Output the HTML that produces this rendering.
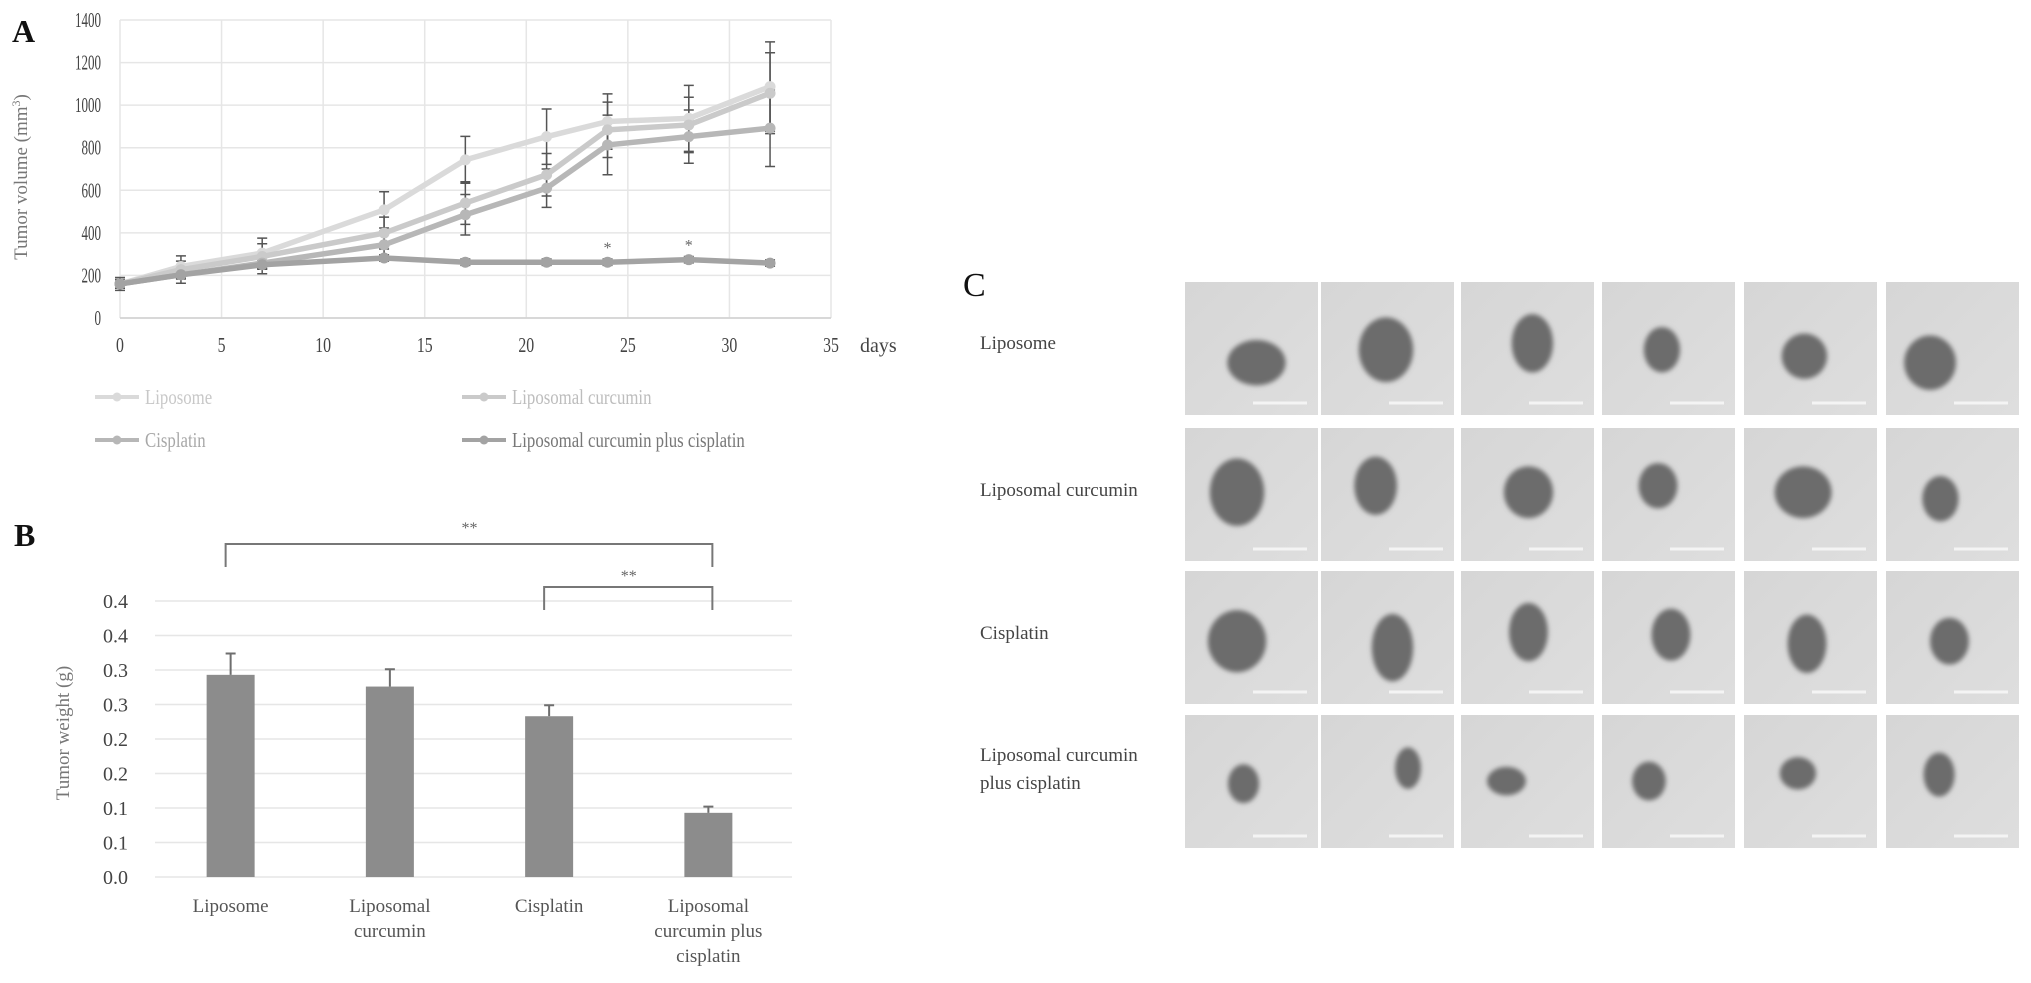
<!DOCTYPE html>
<html><head><meta charset="utf-8">
<style>
html,body{margin:0;padding:0;background:#fff;}
svg{display:block;font-family:"Liberation Serif",serif;}
</style></head>
<body>
<svg id="fig" width="2031" height="983" viewBox="0 0 2031 983" xmlns="http://www.w3.org/2000/svg">
<defs>
<filter id="blur2" x="-30%" y="-30%" width="160%" height="160%"><feGaussianBlur stdDeviation="2.5"/></filter>
<linearGradient id="bg" x1="0" y1="0" x2="1" y2="1"><stop offset="0" stop-color="#d6d6d6"/><stop offset="1" stop-color="#dedede"/></linearGradient>
</defs>
<g id="panelA"></g>
<g id="panelB"></g>
<g id="panelC"></g>
</svg>
<script>
// ---- Panel A data ----
const days = [0,3,7,13,17,21,24,28,32];
const xTicksA = [0,5,10,15,20,25,30,35];
const yTicksA = [0,200,400,600,800,1000,1200,1400];
const seriesNames = ["Liposome","Liposomal curcumin","Cisplatin","Liposomal curcumin plus cisplatin"];
const liposomeVals = [160,242,305,508,743,852,923,938,1087];
const curcuminVals = [160,227,289,399,540,673,884,907,1056];
const cisplatinVals = [160,203,258,344,485,610,813,852,892];
const comboVals = [160,203,250,282,262,262,262,274,258];
const liposomeErr = [20,50,70,85,110,130,130,155,210];
const curcuminErr = [20,40,60,75,100,100,130,130,190];
const cisplatinErr = [20,40,50,65,95,90,140,125,180];
const comboErr = [30,20,20,15,15,15,15,15,15];
const starDays = [24,28];

// ---- Panel B data ----
const groupsB = [["Liposome"],["Liposomal","curcumin"],["Cisplatin"],["Liposomal","curcumin plus","cisplatin"]];
const weightVals = [0.293,0.276,0.233,0.093];
const weightErr = [0.031,0.025,0.016,0.009];
const yTickLabelsB = ["0.0","0.1","0.1","0.2","0.2","0.3","0.3","0.4"];
const yTickValsB = [0,0.05,0.1,0.15,0.2,0.25,0.3,0.35];

const NS="http://www.w3.org/2000/svg";
function mk(parent,tag,attrs,text){const e=document.createElementNS(NS,tag);for(const k in attrs)e.setAttribute(k,attrs[k]);if(text!==undefined)e.textContent=text;parent.appendChild(e);return e;}
function condense(el,f){try{const w=el.getComputedTextLength();el.setAttribute('textLength',(w*f).toFixed(1));el.setAttribute('lengthAdjust','spacingAndGlyphs');}catch(e){}}

// ===== Panel A =====
(function(){
const g=document.getElementById('panelA');
const X0=120,X1=831,Y0=318,Y1=20;
const xs=d=>X0+(d/35)*(X1-X0);
const ys=v=>Y0-(v/1400)*(Y0-Y1);
let t=mk(g,'text',{x:12,y:42,'font-size':32,'font-weight':'bold',fill:'#111'},'A');


yTicksA.forEach(v=>{
  const l=mk(g,'line',{x1:X0,x2:X1,y1:ys(v),y2:ys(v),stroke:'#e6e6e6','stroke-width':1.5});
  
  
  const tx=mk(g,'text',{x:101,y:ys(v)+7,'font-size':21,fill:'#444','text-anchor':'end'},String(v));
  
  
  condense(tx,0.62);
});
xTicksA.forEach(v=>{
  const l=mk(g,'line',{x1:xs(v),x2:xs(v),y1:Y1,y2:Y0,stroke:'#e6e6e6','stroke-width':1.5});
  
  
  const tx=mk(g,'text',{x:xs(v),y:352,'font-size':21,fill:'#444','text-anchor':'middle'},String(v));
  
  
  condense(tx,0.75);
});
let ax=mk(g,'line',{x1:X0,x2:X1,y1:Y0,y2:Y0,stroke:'#d0d0d0','stroke-width':1.5});


let dt=mk(g,'text',{x:860,y:352,'font-size':20,fill:'#444'},'days');


let yt=mk(g,'text',{x:0,y:0,'font-size':19,fill:'#777','text-anchor':'middle',transform:'translate(27,177) rotate(-90)'});
yt.innerHTML='Tumor volume (mm<tspan dy="-7" font-size="12">3</tspan><tspan dy="7">)</tspan>';


const all=[liposomeVals,curcuminVals,cisplatinVals,comboVals];
const errs=[liposomeErr,curcuminErr,cisplatinErr,comboErr];
const cols=['#dadada','#cacaca','#b7b7b7','#a3a3a3'];
all.forEach((vals,si)=>{vals.forEach((v,i)=>{
  const x=xs(days[i]),e=errs[si][i];
  const eb=mk(g,'path',{d:`M${x},${ys(v+e)}V${ys(v-e)}M${x-5},${ys(v+e)}H${x+5}M${x-5},${ys(v-e)}H${x+5}`,stroke:'#555','stroke-width':1.5,fill:'none'});
  
  
});});
all.forEach((vals,si)=>{
  const p=mk(g,'polyline',{points:vals.map((v,i)=>xs(days[i])+','+ys(v)).join(' '),fill:'none',stroke:cols[si],'stroke-width':5.5,'stroke-linejoin':'round'});
  
  
  vals.forEach((v,i)=>{
    const c=mk(g,'circle',{cx:xs(days[i]),cy:ys(v),r:5.5,fill:cols[si]});
    
    
  });
});
starDays.forEach(d=>{
  const i=days.indexOf(d);
  const s=mk(g,'text',{x:xs(d),y:ys(comboVals[i]+comboErr[i])-6,'font-size':16,fill:'#666','text-anchor':'middle'},'*');
  
  
});
const legPos=[[95,397],[462,397],[95,440],[462,440]];
const legTxt=['#c8c8c8','#bdbdbd','#a8a8a8','#777'];
seriesNames.forEach((n,si)=>{
  const [lx,ly]=legPos[si];
  const lg=mk(g,'g',{});
  
  
  mk(lg,'line',{x1:lx,x2:lx+44,y1:ly,y2:ly,stroke:cols[si],'stroke-width':4});
  mk(lg,'circle',{cx:lx+22,cy:ly,r:4.5,fill:cols[si]});
  const tt=mk(lg,'text',{x:lx+50,y:ly+7,'font-size':21,fill:legTxt[si]},n);
  condense(tt,0.8);
});
})();

// ===== Panel B =====
(function(){
const g=document.getElementById('panelB');
const X0=155,X1=792,Y0=877,Y1=601;
const ys=v=>Y0-(v/0.4)*(Y0-Y1);
const step=(X1-X0)/groupsB.length;
const cx=i=>X0+step*(i+0.5)-4;
let t=mk(g,'text',{x:14,y:546,'font-size':32,'font-weight':'bold',fill:'#111'},'B');


yTickValsB.concat([0.4]).forEach((v,i)=>{
  const l=mk(g,'line',{x1:X0,x2:X1,y1:ys(v),y2:ys(v),stroke:'#e6e6e6','stroke-width':1.5});
  
  
});
yTickValsB.forEach((v,i)=>{
  const tx=mk(g,'text',{x:128,y:ys(v)+7,'font-size':20,fill:'#444','text-anchor':'end'},yTickLabelsB[i]);
  
  
});
let tx4=mk(g,'text',{x:128,y:ys(0.4)+7,'font-size':20,fill:'#444','text-anchor':'end'},'0.4');


let yt=mk(g,'text',{x:0,y:0,'font-size':19,fill:'#777','text-anchor':'middle',transform:'translate(69,733) rotate(-90)'},'Tumor weight (g)');


weightVals.forEach((v,i)=>{
  const x=cx(i),e=weightErr[i];
  const eb=mk(g,'path',{d:`M${x},${ys(v)}V${ys(v+e)}M${x-5},${ys(v+e)}H${x+5}`,stroke:'#6e6e6e','stroke-width':2,fill:'none'});
  
  
  const r=mk(g,'rect',{x:x-24,y:ys(v),width:48,height:Y0-ys(v),fill:'#8c8c8c'});
  
  
  groupsB[i].forEach((line,j)=>{
    const lt=mk(g,'text',{x:x,y:912+j*25,'font-size':19,fill:'#555','text-anchor':'middle'},line);
    
    
  });
});
const br=[[0,3,544,567,525],[2,3,587,610,573]];
br.forEach(b=>{
  const p=mk(g,'path',{d:`M${cx(b[0])-5},${b[3]}V${b[2]}H${cx(b[1])+4}V${b[3]}`,stroke:'#777','stroke-width':2,fill:'none'});
  
  
  const s=mk(g,'text',{x:(cx(b[0])+cx(b[1]))/2,y:b[4]+8,'font-size':16,fill:'#666','text-anchor':'middle'},'**');
  
  
});
})();

// ===== Panel C =====
(function(){
const g=document.getElementById('panelC');
let t=mk(g,'text',{x:963,y:296,'font-size':34,fill:'#111'},'C');


const rowLabels=[["Liposome"],["Liposomal curcumin"],["Cisplatin"],["Liposomal curcumin","plus cisplatin"]];
const rowLY=[[349],[496],[639],[761,789]];
rowLabels.forEach((r,i)=>r.forEach((s,j)=>{
  const tx=mk(g,'text',{x:980,y:rowLY[i][j],'font-size':19,fill:'#444'},s);
  
  
}));
const colX=[1185,1321,1461,1602,1744,1886];
const rowY=[282,428,571,715];
const W=133,H=133;
const blobs=[
 [[970,280,45,35],[1070,270,42,50],[1183,265,32,45],[1283,270,28,35],[1393,275,35,35],[1490,280,40,42]],
 [[955,380,42,52],[1062,375,33,45],[1180,380,38,40],[1280,375,30,35],[1392,380,44,40],[1498,385,28,35]],
 [[955,495,45,48],[1075,500,32,52],[1180,488,30,45],[1290,490,30,40],[1395,497,30,45],[1505,495,30,36]],
 [[960,605,24,30],[1087,593,20,32],[1163,603,30,22],[1273,603,26,30],[1388,597,28,25],[1497,598,24,34]]];
rowY.forEach((y,ri)=>colX.forEach((x,ci)=>{
  const cell=mk(g,'g',{});
  
  
  mk(cell,'rect',{x:x,y:y,width:W,height:H,fill:'url(#bg)'});
  const b=blobs[ri][ci];
  mk(cell,'ellipse',{cx:b[0]/0.772,cy:b[1]/0.772,rx:b[2]/0.772/2,ry:b[3]/0.772/2,fill:'#6c6c6c',filter:'url(#blur2)'});
  mk(cell,'line',{x1:x+68,x2:x+122,y1:y+H-12,y2:y+H-12,stroke:'#f4f4f4','stroke-width':3});
}));
})();
</script>
</body></html>
